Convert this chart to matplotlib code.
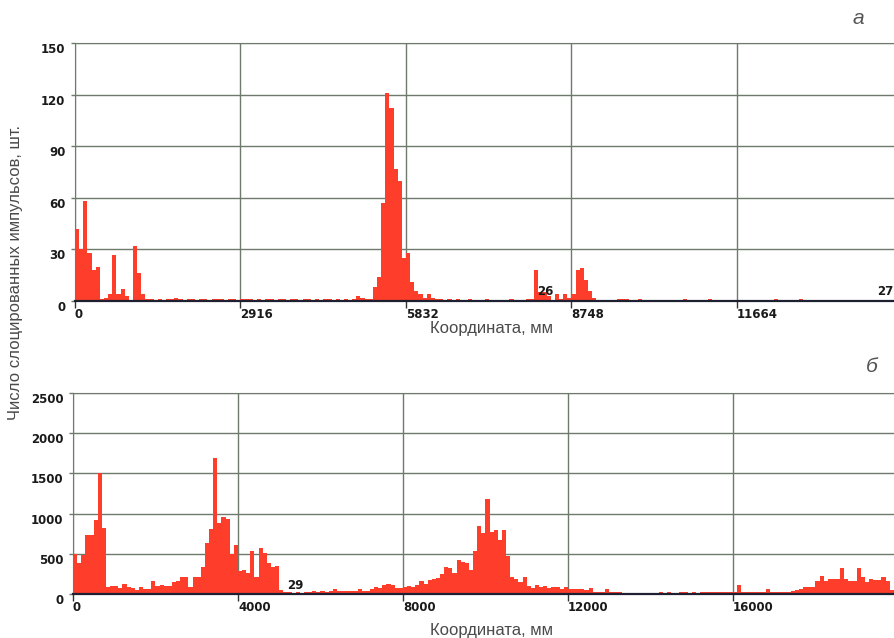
import numpy as np
import matplotlib
matplotlib.use("Agg")
import matplotlib.pyplot as plt

# ---- data: counts per coordinate bin ----
top_bin_mm = 72.9
top_counts = [
    42, 30, 58, 28, 18, 20, 1, 2, 4, 27, 4, 7, 3, 0, 32, 16, 4,
    1, 1, 0, 1, 0, 1, 1, 2, 1, 0, 1, 1, 0,
    1, 1, 0, 1, 1, 1, 0, 1, 1, 0, 1, 1, 1, 0, 1, 0, 1, 1, 0, 1,
    1, 0, 1, 1, 0, 1, 1, 0, 1, 0, 1, 1, 0, 1, 0, 1, 0, 1,
    3, 2, 1, 1, 8, 14, 57, 121, 112, 77, 70, 25, 28, 11, 6, 4, 2, 4, 2, 1, 1, 0, 1,
    0, 1, 0, 0, 1, 0, 0, 0, 1, 0, 0, 0, 0, 0, 1, 0, 0, 0, 1, 1,
    18, 5, 5, 3, 0, 4, 1, 4, 2, 4, 18, 19, 12, 6, 2,
    0, 0, 0, 0, 0, 1, 1, 1, 0, 0, 1, 0, 0, 0, 0, 0, 0, 0, 0, 0,
    0, 1, 0, 0, 0, 0, 0, 1, 0, 0, 0, 0, 0, 0, 0, 0, 0, 0, 0, 0,
    0, 0, 0, 1, 0, 0, 0, 0, 0, 1, 0, 0, 0, 0, 0, 0, 0, 0, 0, 0,
    0, 0, 0, 0, 0, 0, 0, 0, 0, 0, 0, 0, 0,
]
top_xticks = [0, 2916, 5832, 8748, 11664]
top_yticks = [0, 30, 60, 90, 120, 150]

bot_bin_mm = 100
bot_counts = [
    500, 390, 490, 730, 730, 920, 1500, 815, 85, 105, 105, 75, 125, 92, 75, 50, 85,
    62, 62, 167, 105, 112, 105, 105, 146, 158, 217, 217, 85, 208, 208, 333, 637, 804,
    1690, 883, 958, 938, 500, 604, 283, 300, 258, 533, 208, 575, 512, 388, 342, 354, 50,
    25, 20, 15, 20, 15, 30, 30, 35, 30, 35, 30, 40, 58, 35, 40, 35, 40, 42, 62, 42, 42, 60,
    92, 80, 112, 125, 110, 80, 80, 92, 100, 92, 117, 158, 125, 175, 190, 200, 250, 340,
    321, 258, 425, 404, 383, 300, 529, 850, 758, 1183, 767, 800, 675, 792, 467, 217, 183,
    154, 208, 100, 71, 112, 92, 100, 71, 92, 83, 58, 92, 57,
    65, 60, 60, 55, 70, 30, 20, 25, 60, 25, 20, 20, 15, 10, 8, 5, 8, 10, 8, 10, 12, 20,
    15, 20, 15, 10, 20, 20, 15, 20, 15, 20, 20, 25, 20, 30, 30, 20, 20,
    20, 109, 20, 20, 25, 20, 20, 20, 65, 20, 20, 20, 25, 30, 43, 50, 65, 87, 87, 90,
    167, 225, 167, 192, 192, 192, 325, 192, 167, 167, 325, 208, 150, 192, 175, 175, 217,
    158, 50, 20,
]
bot_xticks = [0, 4000, 8000, 12000, 16000]
bot_yticks = [0, 500, 1000, 1500, 2000, 2500]

bar_color = "#fe3d2b"
grid_color = "#6d7a6c"
tick_font = dict(family="DejaVu Sans", weight="bold", size=8.5)

W, H = 895, 638
fig = plt.figure(figsize=(W / 100, H / 100), dpi=100)
fig.patch.set_facecolor("white")


def panel(rect, counts, binw, xmax, xticks, yticks):
    ax = fig.add_axes(rect)
    x = np.arange(len(counts)) * binw
    ax.bar(x, counts, width=binw, align="edge", color=bar_color, linewidth=0, zorder=2)
    ax.set_xlim(0, xmax)
    ax.set_ylim(0, yticks[-1])
    ax.set_xticks(xticks)
    ax.set_yticks(yticks)
    ax.set_xticklabels([str(t) for t in xticks], fontdict=tick_font, color="#1a1a1a")
    ax.set_yticklabels([str(t) for t in yticks], fontdict=tick_font, color="#1a1a1a")
    for lbl in ax.get_xticklabels():
        lbl.set_ha("left")
    for lbl in ax.get_yticklabels():
        lbl.set_va("top")
    ax.tick_params(axis="x", direction="out", length=5, width=1, color="#333333", pad=0)
    ax.tick_params(axis="y", length=3, width=1, color=grid_color, pad=4)
    ax.grid(True, color=grid_color, linewidth=1)
    ax.set_axisbelow(True)
    ax.spines["right"].set_visible(False)
    ax.spines["top"].set_color(grid_color)
    ax.spines["left"].set_color(grid_color)
    ax.spines["bottom"].set_color("#1c2030")
    ax.spines["bottom"].set_linewidth(1.6)
    ax.spines["bottom"].set_zorder(3)
    return ax


ax1 = panel([75 / W, (H - 301) / H, (W - 75) / W, (301 - 43) / H],
            top_counts, top_bin_mm, 820 * 2916 / 165.5, top_xticks, top_yticks)
ax2 = panel([73 / W, (H - 594) / H, (W - 73) / W, (594 - 393) / H],
            bot_counts, bot_bin_mm, 822 * 4000 / 165, bot_xticks, bot_yticks)

# small value markers printed on the original plots
ax1.text(8150, 2, "26", fontdict=tick_font, color="#1a1a1a", va="bottom", ha="left", zorder=4)
ax1.text(14130, 2, "27", fontdict=tick_font, color="#1a1a1a", va="bottom", ha="left", zorder=4)
ax2.text(5180, 30, "29", fontdict=tick_font, color="#1a1a1a", va="bottom", ha="left", zorder=4)

label_font = dict(family="Liberation Sans", size=12, color="#4a4a4a")
fig.text(492 / W, 1 - 329 / H, "Координата, мм", ha="center", va="center", **label_font)
fig.text(492 / W, 1 - 630 / H, "Координата, мм", ha="center", va="center", **label_font)
fig.text(16 / W, 1 - 272 / H, "Число слоцированных импульсов, шт.", rotation=90,
         ha="center", va="center", **label_font)

fig.text(858 / W, 1 - 18 / H, "а", ha="center", va="center", style="italic",
         family="Liberation Sans", size=15, color="#555555")
fig.text(872 / W, 1 - 366 / H, "б", ha="center", va="center", style="italic",
         family="Liberation Sans", size=15, color="#555555")

fig.savefig("out.png", dpi=100, facecolor=fig.get_facecolor())
